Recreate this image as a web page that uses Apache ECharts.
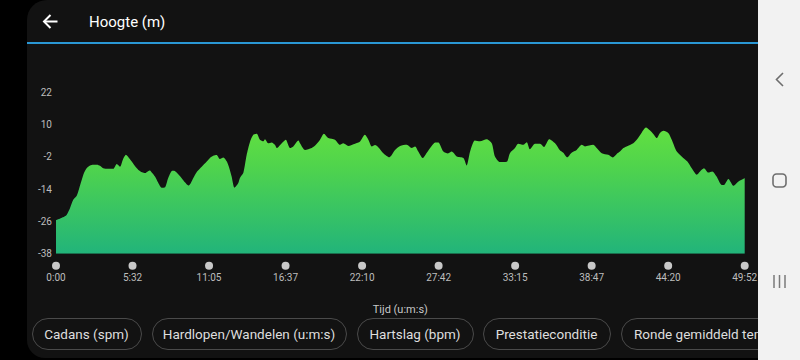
<!DOCTYPE html>
<html>
<head>
<meta charset="utf-8">
<script src="https://cdn.jsdelivr.net/npm/echarts@6/dist/echarts.min.js"></script>
<style>
html,body{margin:0;padding:0;background:#000;}
#chart{width:800px;height:360px;}
</style>
</head>
<body>
<div id="chart"></div>
<script>
// ---- data ----
const titleText = 'Hoogte (m)';
const xAxisName = 'Tijd (u:m:s)';
const totalSeconds = 2992;
const xTickLabels = ['0:00','5:32','11:05','16:37','22:10','27:42','33:15','38:47','44:20','49:52'];
const yTickValues = [-38, -26, -14, -2, 10, 22];
const chipLabels = ['Cadans (spm)', 'Hardlopen/Wandelen (u:m:s)', 'Hartslag (bpm)', 'Prestatieconditie', 'Ronde gemiddeld tempo'];

const timeSec = [0,17,30,46,61,75,90,100,112,122,133,148,162,178,191,205,226,249,264,278,291,304,317,329,343,358,374,387,400,408,417,430,443,459,474,487,503,513,524,546,560,575,584,596,613,633,655,669,683,698,712,727,742,752,763,775,782,792,799,814,828,843,857,872,886,901,908,922,937,951,959,981,998,1017,1031,1053,1060,1082,1111,1130,1147,1164,1183,1212,1234,1248,1270,1299,1321,1342,1357,1372,1386,1400,1422,1448,1473,1495,1524,1545,1560,1574,1593,1611,1632,1647,1661,1683,1703,1719,1741,1770,1784,1799,1820,1842,1871,1893,1907,1929,1958,1972,1994,2008,2030,2045,2059,2081,2103,2120,2143,2168,2190,2204,2221,2240,2262,2284,2298,2334,2349,2371,2399,2419,2436,2450,2465,2479,2508,2523,2545,2563,2581,2594,2610,2624,2639,2660,2675,2697,2725,2743,2762,2784,2798,2815,2834,2851,2870,2892,2902,2921,2943,2965,2992];
const elevation = [-25.5,-25,-24.5,-23.6,-21,-18,-16.5,-14,-10.6,-8,-6.3,-5.3,-5.0,-5.0,-5.4,-6.3,-6.5,-6.5,-4.7,-5.7,-3,-1.3,-2.5,-3.8,-5.5,-6.9,-7.8,-8.1,-7.4,-7.1,-8,-9.4,-11.5,-13.5,-13.3,-10,-7.3,-7.2,-7.9,-10,-11.5,-12.7,-12,-10,-7.5,-5.7,-3.8,-2.5,-1.7,-1.4,-2.9,-2.3,-3.8,-6,-9.4,-13.5,-13,-11.8,-9.9,-8,-1.5,3.5,6.1,6.5,4.3,3.7,4.5,3.0,3.3,2.4,1.2,3.0,4.3,1.2,1.8,4.0,3.0,0.5,1.2,2.5,4.3,6.5,4.9,4.3,2.4,3.0,2.0,2.8,3.6,6.1,4.3,1.8,2.3,1.5,-0.7,-2.2,0.5,2.0,2.4,1.2,1.8,-0.1,-2.5,-0.5,2.0,3.3,3.3,-0.1,-0.8,-0.1,-1.9,-2.5,-5.3,-0.1,4.0,3.7,4.5,3.0,-1.9,-4.0,-3.9,-0.7,1.2,2.8,2.4,3.4,0.8,2.8,2.8,1.6,4.5,3.0,0.3,-0.5,-2.2,-0.5,0.5,2.4,1.8,2.4,1.2,-0.7,-1.3,-2.3,-1.0,-0.1,1.2,1.8,3.0,4.3,7.0,8.8,7.7,6.5,4.9,6.8,7.6,6.8,4.3,-0.1,-2.5,-3.8,-6.3,-8.7,-7.5,-6.3,-7.9,-7.5,-9.4,-12.5,-12.5,-10.3,-12.8,-11.2,-10.0];

// ---- chart ----
const seriesData = timeSec.map((t, i) => [t, elevation[i]]);
const xInterval = totalSeconds / (xTickLabels.length - 1);
const yInterval = yTickValues[1] - yTickValues[0];

const chipGeom = [[32,109],[152,194],[357,116],[483,127],[621,200]];
const chipEls = [];
chipLabels.forEach((label, i) => {
  const [x, w] = chipGeom[i];
  chipEls.push({
    type: 'rect', z: 5,
    shape: {x: x + 0.5, y: 318.5, width: w, height: 31, r: 15.5},
    style: {fill: 'none', stroke: '#4a4a4a', lineWidth: 1}
  });
  chipEls.push({
    type: 'text', z: 6,
    style: {
      x: i === 4 ? x + 13 : x + w / 2, y: 334,
      text: label,
      fill: '#dedede',
      font: '13.5px Roboto',
      textAlign: i === 4 ? 'left' : 'center',
      textVerticalAlign: 'middle'
    }
  });
});

const chart = echarts.init(document.getElementById('chart'), null, {renderer: 'svg'});
chart.setOption({
  backgroundColor: '#000000',
  animation: false,
  grid: {left: 56, right: 55.3, top: 92, bottom: 106.3, containLabel: false, outerBoundsMode: 'none'},
  xAxis: {
    type: 'value',
    min: 0,
    max: totalSeconds,
    interval: xInterval,
    name: xAxisName,
    nameLocation: 'middle',
    nameGap: 50,
    nameTextStyle: {color: '#c8c8c8', fontSize: 11, fontFamily: 'Roboto'},
    axisLine: {show: false},
    axisTick: {show: false},
    splitLine: {show: false},
    axisLabel: {
      show: true,
      showMinLabel: true,
      showMaxLabel: true,
      margin: 7,
      formatter: function (v) {
        const idx = Math.round(v / xInterval);
        return '{d|}\n{t|' + xTickLabels[idx] + '}';
      },
      rich: {
        d: {width: 8, height: 8, borderRadius: 4, backgroundColor: '#c8c8c8', lineHeight: 10, align: 'center'},
        t: {color: '#bdbdbd', fontSize: 10, fontFamily: 'Roboto', lineHeight: 14, align: 'center'}
      }
    }
  },
  yAxis: {
    type: 'value',
    min: yTickValues[0],
    max: yTickValues[yTickValues.length - 1],
    interval: yInterval,
    axisLine: {show: false},
    axisTick: {show: false},
    splitLine: {show: false},
    axisLabel: {color: '#bdbdbd', fontSize: 10, fontFamily: 'Roboto', margin: 4}
  },
  series: [{
    type: 'line',
    data: seriesData,
    showSymbol: false,
    symbol: 'none',
    smooth: 0.25,
    lineStyle: {width: 0},
    areaStyle: {
      origin: 'start',
      opacity: 1,
      color: new echarts.graphic.LinearGradient(0, 0, 0, 1, [
        {offset: 0, color: '#62e040'},
        {offset: 0.3, color: '#50d44c'},
        {offset: 1, color: '#22b47a'}
      ])
    },
    z: 3
  }],
  graphic: {
    elements: [
      {type: 'rect', z: -10, shape: {x: 27, y: 0, width: 760, height: 358, r: [20, 0, 0, 18]}, style: {fill: '#121212'}},
      {type: 'line', z: 5, shape: {x1: 27, y1: 43, x2: 758, y2: 43}, style: {stroke: '#2a97d4', lineWidth: 2}},
      {type: 'line', z: 5, shape: {x1: 44, y1: 21.5, x2: 57.5, y2: 21.5}, style: {stroke: '#ffffff', lineWidth: 2}},
      {type: 'polyline', z: 5, shape: {points: [[50.5, 15], [44, 21.5], [50.5, 28]]}, style: {stroke: '#ffffff', lineWidth: 2, fill: 'none'}},
      {type: 'text', z: 5, style: {x: 89, y: 22, text: titleText, fill: '#ffffff', font: '15px Roboto', textVerticalAlign: 'middle'}},
      ...chipEls,
      {type: 'rect', z: 100, shape: {x: 758, y: 0, width: 42, height: 360}, style: {fill: '#f2f2f2'}},
      {type: 'polyline', z: 101, shape: {points: [[783, 73], [776.5, 79.5], [783, 86]]}, style: {stroke: '#6e6e6e', lineWidth: 1.6, fill: 'none'}},
      {type: 'rect', z: 101, shape: {x: 773, y: 174, width: 13, height: 13, r: 3.5}, style: {stroke: '#6e6e6e', lineWidth: 1.6, fill: 'none'}},
      {type: 'line', z: 101, shape: {x1: 774, y1: 275, x2: 774, y2: 288}, style: {stroke: '#7a7a7a', lineWidth: 1.5}},
      {type: 'line', z: 101, shape: {x1: 779.5, y1: 275, x2: 779.5, y2: 288}, style: {stroke: '#7a7a7a', lineWidth: 1.5}},
      {type: 'line', z: 101, shape: {x1: 785, y1: 275, x2: 785, y2: 288}, style: {stroke: '#7a7a7a', lineWidth: 1.5}}
    ]
  }
});
</script>
</body>
</html>
